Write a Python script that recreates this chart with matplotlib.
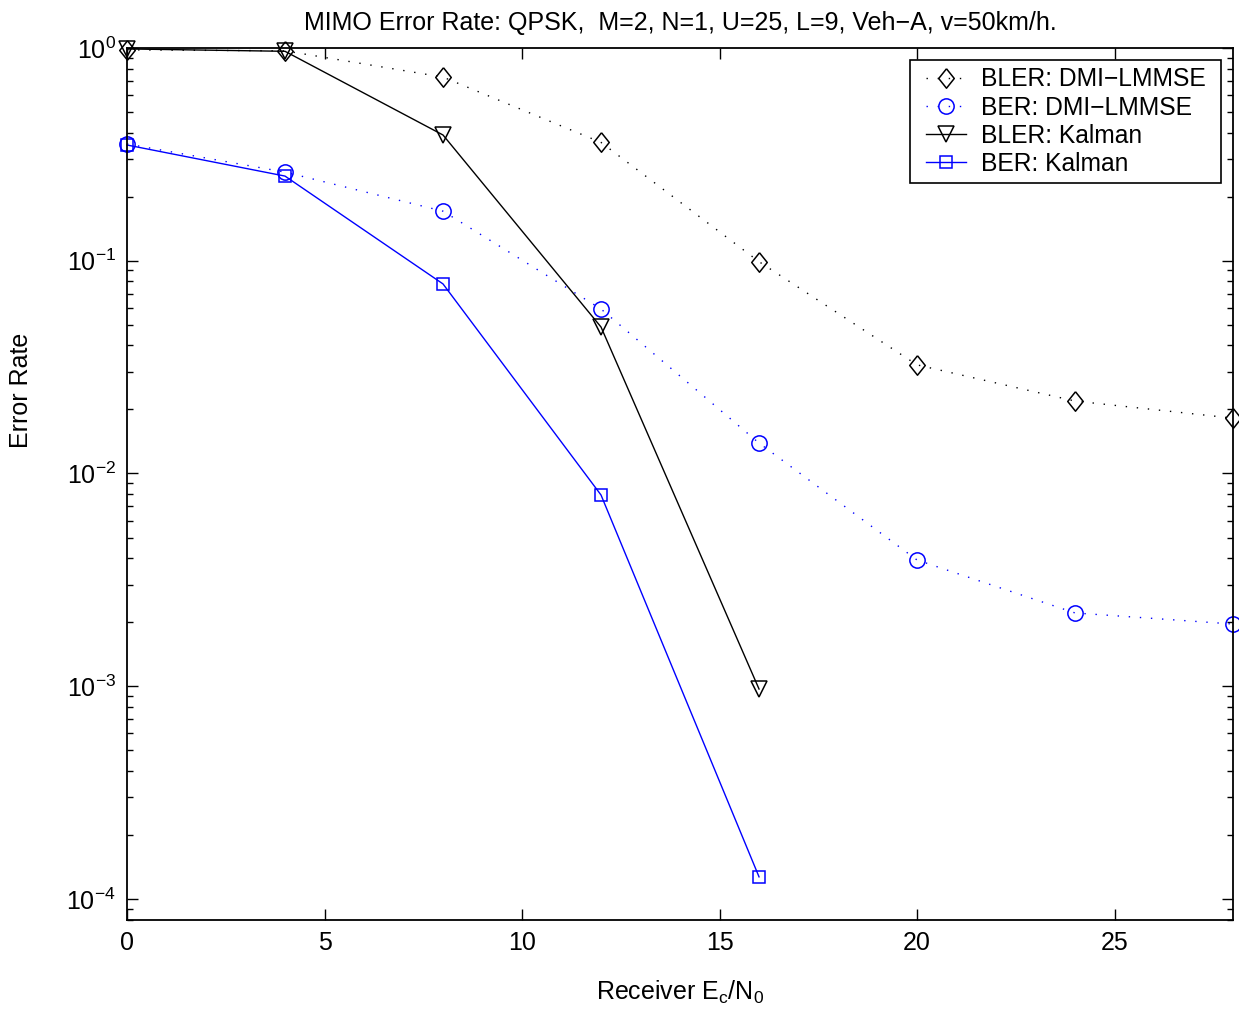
import matplotlib
matplotlib.use("Agg")
import matplotlib.pyplot as plt
from matplotlib.path import Path
import numpy as np

plt.rcParams['font.family'] = ['Liberation Sans', 'DejaVu Sans']
plt.rcParams['mathtext.fontset'] = 'custom'
plt.rcParams['mathtext.rm'] = 'Liberation Sans'
plt.rcParams['mathtext.it'] = 'Liberation Sans'

# Receiver Ec/N0 (dB)
snr = [0, 4, 8, 12, 16, 20, 24, 28]
snr_kalman = [0, 4, 8, 12, 16]

bler_dmi = [0.98, 0.97, 0.73, 0.36, 0.099, 0.0324, 0.0219, 0.0182]
ber_dmi = [0.354, 0.261, 0.171, 0.0593, 0.0139, 0.00392, 0.00221, 0.00196]
bler_kalman = [0.99, 0.965, 0.39, 0.0488, 0.00097]
ber_kalman = [0.35, 0.25, 0.0778, 0.00792, 0.000127]

diamond = [(0, 1), (0.8, 0), (0, -1), (-0.8, 0), (0, 1)]
dotted = (0, (1, 7))

fig = plt.figure(figsize=(12.39, 10.15), dpi=100)
ax = fig.add_axes([0.1025, 0.0936, 0.8927, 0.8591])

ax.semilogy(snr, bler_dmi, color='k', linestyle=dotted, lw=1, marker=diamond,
            ms=14, mfc='none', mew=1.1, label='BLER: DMI\u2212LMMSE')
ax.semilogy(snr, ber_dmi, color='b', linestyle=dotted, lw=1, marker='o',
            ms=11, mfc='none', mew=1.1, label='BER: DMI\u2212LMMSE')
ax.semilogy(snr_kalman, bler_kalman, color='k', linestyle='-', lw=1, marker='v',
            ms=12, mfc='none', mew=1.1, label='BLER: Kalman')
ax.semilogy(snr_kalman, ber_kalman, color='b', linestyle='-', lw=1, marker='s',
            ms=9, mfc='none', mew=1.1, label='BER: Kalman')

for ln in ax.get_lines():
    ln.set_clip_on(False)

ax.set_xlim(0, 28)
ax.set_ylim(10 ** -4.099, 1)
ax.set_xticks([0, 5, 10, 15, 20, 25])
ax.tick_params(which='both', direction='in', top=True, right=True, labelsize=18, width=1)
ax.tick_params(which='major', length=8, pad=8)
ax.tick_params(which='minor', length=4)
ax.minorticks_on()
ax.xaxis.set_minor_locator(matplotlib.ticker.NullLocator())
for s in ax.spines.values():
    s.set_linewidth(1.3)

ax.set_title('MIMO Error Rate: QPSK,  M=2, N=1, U=25, L=9, Veh\u2212A, v=50km/h.',
             fontsize=18, pad=13)
ax.set_xlabel(r'Receiver E$_{\rm c}$/N$_{\rm 0}$', fontsize=18, labelpad=17)
ax.set_ylabel('Error Rate', fontsize=18)
ax.yaxis.set_label_coords(-0.085, 0.607)


# legend frame: wider side padding than top/bottom, like the MATLAB box
def wide_box(x0, y0, width, height, mutation_size):
    px = 0.33 * mutation_size
    return Path([(x0 - px, y0), (x0 + width + px, y0), (x0 + width + px, y0 + height),
                 (x0 - px, y0 + height), (x0 - px, y0)], closed=True)


leg = ax.legend(loc='upper right', bbox_to_anchor=(0.9819, 0.9862), fontsize=17.7,
                fancybox=False, framealpha=1, edgecolor='k', borderaxespad=0,
                handlelength=1.65, labelspacing=0.17, borderpad=0.3, handletextpad=0.6)
leg.get_frame().set_linewidth(1.2)
leg.get_frame().set_boxstyle(wide_box)

fig.savefig('out.png', dpi=100)
